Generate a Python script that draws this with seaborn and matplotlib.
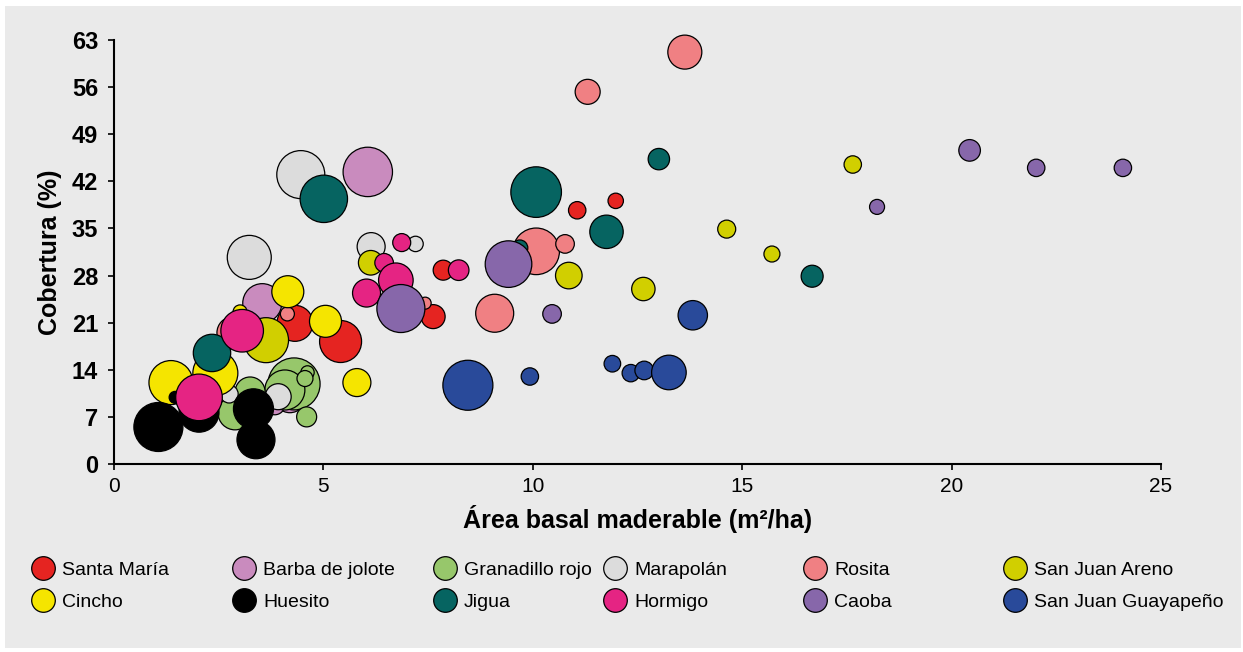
import matplotlib
matplotlib.use("Agg")
import matplotlib.pyplot as plt
from matplotlib.patches import Rectangle
from matplotlib.lines import Line2D
import seaborn as sns
import pandas as pd

# ---------------- data ----------------
especies = ["Santa María", "Barba de jolote", "Granadillo rojo", "Marapolán", "Rosita",
            "San Juan Areno", "Cincho", "Huesito", "Jigua", "Hormigo", "Caoba",
            "San Juan Guayapeño"]
colores = ["#E52421", "#C98BBE", "#97C76B", "#DCDCDC", "#F08083", "#D1CF00",
           "#F5E500", "#000000", "#066461", "#E52483", "#8767AA", "#294A9A"]

grupo = (["Santa María"] * 6 + ["Barba de jolote"] * 4 + ["Granadillo rojo"] * 7 +
         ["Marapolán"] * 6 + ["Rosita"] * 8 + ["San Juan Areno"] * 7 + ["Cincho"] * 6 +
         ["Huesito"] * 5 + ["Jigua"] * 7 + ["Hormigo"] * 7 + ["Caoba"] * 7 +
         ["San Juan Guayapeño"] * 7)

area_basal = [4.32, 5.41, 7.62, 7.86, 11.06, 11.98,
              6.06, 3.54, 4.20, 3.84,
              4.30, 4.08, 4.62, 4.56, 4.60, 3.25, 2.89,
              4.46, 3.23, 6.14, 7.20, 3.92, 2.75,
              13.63, 11.31, 10.08, 10.77, 9.09, 4.14, 7.43, 2.84,
              3.63, 6.13, 10.86, 12.64, 14.63, 15.71, 17.64,
              4.15, 5.05, 3.01, 2.42, 1.36, 5.80,
              1.06, 2.03, 1.46, 3.33, 3.39,
              5.01, 10.08, 13.01, 11.76, 9.69, 16.67, 2.34,
              3.06, 2.03, 6.87, 6.45, 6.73, 6.03, 8.23,
              6.85, 9.42, 10.46, 20.43, 22.02, 24.09, 18.22,
              8.45, 9.93, 13.82, 11.90, 12.34, 12.66, 13.25]

cobertura = [20.9, 18.2, 21.9, 28.8, 37.7, 39.1,
             43.4, 23.9, 10.0, 8.8,
             11.9, 11.0, 13.6, 12.7, 7.0, 10.7, 7.6,
             43.0, 30.7, 32.3, 32.7, 10.0, 10.4,
             61.2, 55.3, 31.6, 32.7, 22.4, 22.3, 23.9, 19.5,
             18.4, 29.9, 28.0, 26.0, 34.9, 31.2, 44.5,
             25.6, 21.2, 22.6, 13.5, 12.1, 12.1,
             5.5, 7.7, 9.9, 8.2, 3.6,
             39.4, 40.4, 45.3, 34.5, 32.1, 27.9, 16.5,
             19.8, 9.9, 32.9, 29.9, 27.3, 25.4, 28.8,
             23.1, 29.7, 22.3, 46.6, 44.0, 44.0, 38.2,
             11.7, 13.0, 22.1, 14.9, 13.5, 13.9, 13.6]

tamano = [18, 21, 12, 10, 8.7, 7.7,
          24.7, 19.5, 16, 10,
          26, 20, 6.7, 8, 10, 15, 17,
          24, 22, 14, 7.7, 13, 9,
          17, 12.5, 23.3, 9.3, 19, 7, 6, 16,
          22.5, 12.3, 13.3, 11.7, 9, 8, 8.7,
          16, 16, 7, 22.5, 22, 14,
          24.5, 20, 6, 20, 19,
          23.7, 25.3, 10.7, 16.7, 8, 11, 18.7,
          21.3, 23.3, 9, 9.3, 17.3, 14, 10.3,
          24, 23.3, 9.3, 10.8, 8.7, 8.7, 7.5,
          25, 8.7, 14.7, 8.3, 8.7, 9.3, 17.3]

y_ticks = [0, 7, 14, 21, 28, 35, 42, 49, 56, 63]
x_ticks = [0, 5, 10, 15, 20, 25]

df = pd.DataFrame({"especie": grupo, "area": area_basal, "cob": cobertura, "tam": tamano})
paleta = dict(zip(especies, colores))
# bubble radius (px at 100 dpi) -> marker area in pt^2
tam_map = {v: (2 * v * 0.72) ** 2 for v in sorted(set(tamano))}

# ---------------- figure ----------------
W, H = 1243, 652
fig = plt.figure(figsize=(W / 100, H / 100), dpi=100, facecolor="white")
fig.patches.append(Rectangle((5 / W, 1 - 648 / H), 1236 / W, 642 / H,
                             transform=fig.transFigure, facecolor="#EAEAEA",
                             edgecolor="none", zorder=-10))
plt.rcParams["font.family"] = ["Liberation Sans", "DejaVu Sans"]

ax = fig.add_axes([114 / W, 1 - 464 / H, (1161 - 114) / W, (464 - 40) / H])
ax.set_facecolor("none")

sns.scatterplot(data=df, x="area", y="cob", hue="especie", hue_order=especies,
                palette=paleta, size="tam", sizes=tam_map, edgecolor="black",
                linewidth=0.9, alpha=1, legend=False, ax=ax, clip_on=False, zorder=3)

ax.set_xlim(0, 25)
ax.set_ylim(0, 63)
ax.set_xticks(x_ticks)
ax.set_yticks(y_ticks)
ax.set_xticklabels([str(v) for v in x_ticks], fontsize=15)
ax.set_yticklabels([str(v) for v in y_ticks], fontsize=17, fontweight="bold")
for s in ["top", "right"]:
    ax.spines[s].set_visible(False)
for s in ["left", "bottom"]:
    ax.spines[s].set_linewidth(1.5)
    ax.spines[s].set_color("black")
ax.tick_params(axis="both", direction="out", length=4.5, width=1.2, colors="black")
ax.tick_params(axis="y", pad=7)
ax.tick_params(axis="x", pad=5)
ax.set_xlabel("Área basal maderable (m²/ha)", fontsize=18, fontweight="bold", labelpad=6)
ax.set_ylabel("Cobertura (%)", fontsize=18, fontweight="bold", labelpad=7)

# ---------------- legend (6 columns x 2 rows) ----------------
col_x = [33, 234, 435, 605, 805, 1005]
for c in range(6):
    handles = []
    for r in range(2):
        i = r * 6 + c
        handles.append(Line2D([], [], linestyle="none", marker="o", markersize=17,
                              markerfacecolor=colores[i], markeredgecolor="black",
                              markeredgewidth=0.9, label=especies[i]))
    fig.legend(handles=handles, loc="center left",
               bbox_to_anchor=(col_x[c] / W, 1 - 586 / H), frameon=False,
               fontsize=14, handlelength=1.0, handletextpad=0.5, borderpad=0,
               borderaxespad=0, labelspacing=0.75)

fig.savefig("out.png", dpi=100, facecolor="white")
